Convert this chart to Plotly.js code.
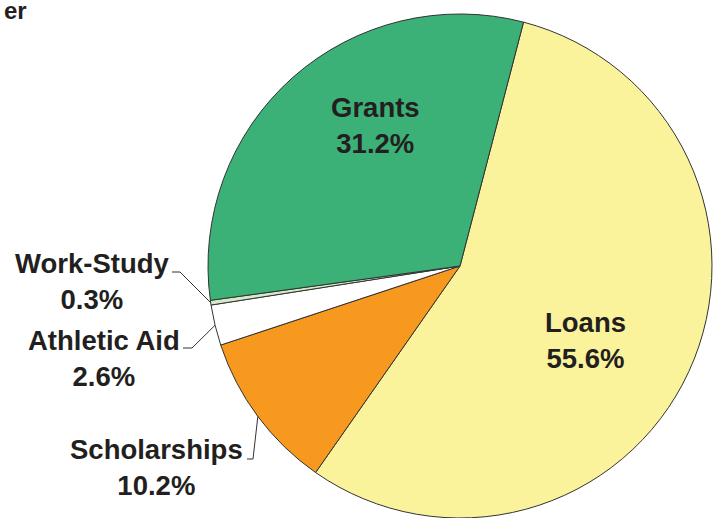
<!DOCTYPE html>
<html><head><meta charset="utf-8">
<script src="https://cdn.plot.ly/plotly-3.0.1.min.js"></script>
<style>html,body{margin:0;padding:0;background:#fff}#chart{width:720px;height:518px}</style>
</head><body><div id="chart"></div>
<script>
const categories = ['Loans', 'Scholarships', 'Athletic Aid', 'Work-Study', 'Grants'];
const shares = [55.6, 10.2, 2.6, 0.3, 31.2];
const shareLabels = ['55.6%', '10.2%', '2.6%', '0.3%', '31.2%'];
const sliceColors = ['#FAF39C', '#F7981F', '#FFFFFF', '#D3EBC8', '#3BB077'];

const W = 720, H = 518;
const CX = 460, CY = 266, R = 252;
const ROT = 14.6;
const px = x => x / W, py = y => 1 - y / H;

const total = shares.reduce((a, b) => a + b, 0);
let cum = 0;
const mids = shares.map(v => { const m = ROT + (cum + v / 2) / total * 360; cum += v; return m; });
function edge(i) { const a = mids[i] * Math.PI / 180; return [CX + R * Math.sin(a), CY - R * Math.cos(a)]; }

const FONT = {family: 'Liberation Sans, Arial, sans-serif', size: 27.5, color: '#231F20', weight: 700};
const textColor = '#231F20';

// label placement (pixels): [centerX, centerY]
const labelPos = {
  'Loans': [585, 340],
  'Grants': [375, 126],
  'Work-Study': [92, 281],
  'Athletic Aid': [104, 358],
  'Scholarships': [156, 467]
};
// leader lines: [startX, bendX, y]
const leaders = {
  'Work-Study': [172, 180, 272],
  'Athletic Aid': [183, 192, 348],
  'Scholarships': [247, 253, 459]
};

const annotations = categories.map((c, i) => ({
  xref: 'paper', yref: 'paper',
  x: px(labelPos[c][0]), y: py(labelPos[c][1]),
  xanchor: 'center', yanchor: 'middle',
  text: c + '<br>' + shareLabels[i],
  showarrow: false, font: FONT, align: 'center'
}));
annotations.push({
  xref: 'paper', yref: 'paper', x: px(3), y: py(11), xanchor: 'left', yanchor: 'middle',
  text: 'er', showarrow: false, borderpad: 0,
  font: {family: 'Liberation Sans, Arial, sans-serif', size: 24, color: textColor, weight: 700}
});

const shapes = Object.keys(leaders).map(c => {
  const i = categories.indexOf(c);
  const [sx, bx, y] = leaders[c];
  const [ex, ey] = edge(i);
  return {
    type: 'path', xref: 'paper', yref: 'paper',
    path: `M ${px(sx)} ${py(y)} L ${px(bx)} ${py(y)} L ${px(ex)} ${py(ey)}`,
    line: {color: '#333333', width: 1}
  };
});

const trace = {
  type: 'pie',
  labels: categories,
  values: shares,
  sort: false,
  direction: 'clockwise',
  rotation: ROT,
  textinfo: 'none',
  hoverinfo: 'label+percent',
  marker: {colors: sliceColors, line: {color: '#333333', width: 1}},
  domain: {x: [px(CX - R), px(CX + R)], y: [py(CY + R) < 0 ? 0 : py(CY + R), py(CY - R)]},
  showlegend: false
};

Plotly.newPlot('chart', [trace], {
  width: W, height: H,
  margin: {l: 0, r: 0, t: 0, b: 0},
  paper_bgcolor: '#ffffff',
  showlegend: false,
  annotations: annotations,
  shapes: shapes
}, {displayModeBar: false, staticPlot: true});
</script>
</body></html>
